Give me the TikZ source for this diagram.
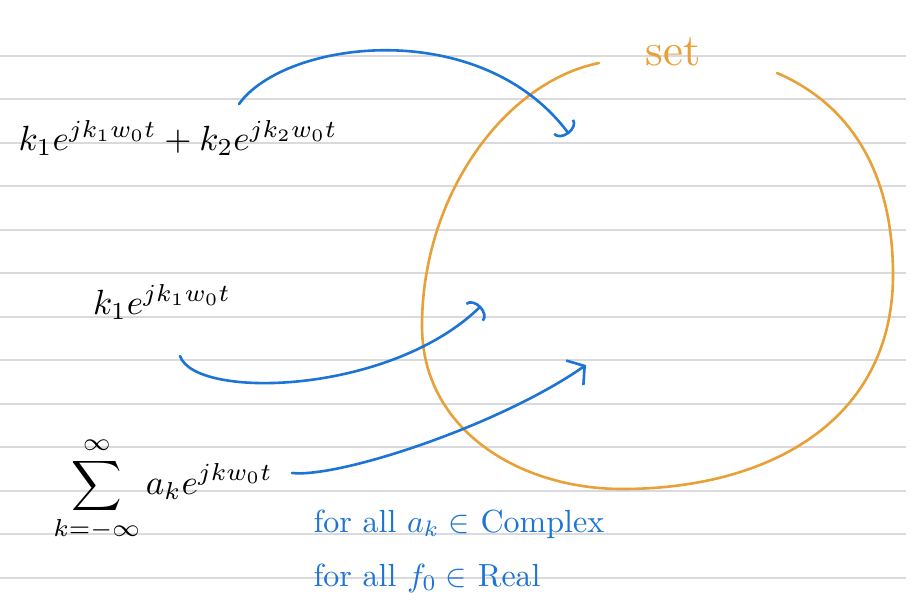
\documentclass[tikz,border=0pt]{standalone}
\usepackage{amsmath,amssymb}
\usepackage{tikz}
\usetikzlibrary{arrows.meta}

\definecolor{ruleGray}{RGB}{218,218,222}
\definecolor{penBlue}{RGB}{28,116,212}
\definecolor{setOrange}{RGB}{232,160,56}

\begin{document}
\begin{tikzpicture}[
            x=1pt, y={(0pt,-1pt)},
            rule line/.style={line width=1.3pt, color=ruleGray},
            set line/.style={line width=2.6pt, color=setOrange, line cap=round},
            map arrow/.style={line width=2.6pt, color=penBlue, line cap=round},
            hook tip/.style={-{Arc Barb[length=9pt, width=26pt, line width=2.6pt]}},
            barb tip/.style={-{Straight Barb[length=12pt, width=30pt, line width=2.6pt]}},
            formula/.style={scale=3.5, inner sep=0pt},
            note/.style={color=penBlue, anchor=west, inner sep=0pt, scale=3.2},
            every node/.style={color=black}
            ]

            \useasboundingbox (0,0) rectangle (916,616);
            \fill[white] (0,0) rectangle (916,616);

            % ruled paper
            \draw[rule line] (0, 56) -- (906, 56);
            \draw[rule line] (0, 99) -- (906, 99);
            \draw[rule line] (0,143) -- (906,143);
            \draw[rule line] (0,186) -- (906,186);
            \draw[rule line] (0,230) -- (906,230);
            \draw[rule line] (0,273) -- (906,273);
            \draw[rule line] (0,317) -- (906,317);
            \draw[rule line] (0,360) -- (906,360);
            \draw[rule line] (0,404) -- (906,404);
            \draw[rule line] (0,447) -- (906,447);
            \draw[rule line] (0,491) -- (906,491);
            \draw[rule line] (0,534) -- (906,534);
            \draw[rule line] (0,578) -- (906,578);

            % the set
            \draw[set line] (599,63) .. controls (505,82) and (422,195) .. (422,326)
                .. controls (422,430) and (520,489) .. (622,489)
                .. controls (770,489) and (893,420) .. (893,275)
                .. controls (893,160) and (840,100) .. (777,73);
            \node[color=setOrange, scale=4.5] (setname) at (673,52) {set};

            % signals
            \node[formula] (twoexp) at (178,138)
                {$k_1 e^{jk_1 w_0 t} + k_2 e^{jk_2 w_0 t}$};
            \node[formula] (oneexp) at (162,302)
                {$k_1 e^{jk_1 w_0 t}$};
            \node[formula] (fourier) at (163,490)
                {$\displaystyle\sum_{k=-\infty}^{\infty} a_k e^{jkw_0 t}$};

            \coordinate (twostart) at (239,104);
            \coordinate (onestart) at (180,356);
            \coordinate (fourstart) at (292,473);
            \coordinate (twoend) at (569,134);
            \coordinate (oneend) at (481,306);
            \coordinate (fourend) at (586,365);

            % mappings into the set
            \draw[map arrow, hook tip] (twostart) .. controls (285,40) and (480,15) .. (twoend);
            \draw[map arrow, hook tip] (onestart) .. controls (195,400) and (390,395) .. (oneend);
            \draw[map arrow, barb tip] (fourstart) .. controls (340,478) and (500,425) .. (fourend);

            % conditions
            \node[note] (cond1) at (313,524) {for all $a_k \in$ Complex};
            \node[note] (cond2) at (313,578) {for all $f_0 \in$ Real};

        \end{tikzpicture}
\end{document}
